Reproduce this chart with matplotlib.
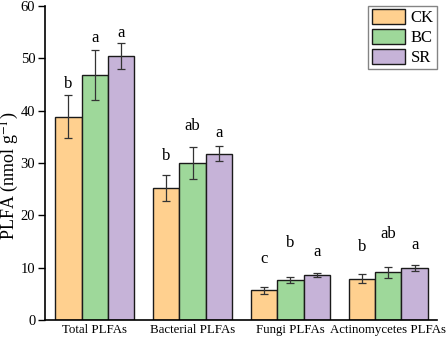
import matplotlib
matplotlib.use("Agg")
import matplotlib.pyplot as plt
import numpy as np

plt.rcParams['font.family'] = ['Liberation Serif', 'DejaVu Serif']
plt.rcParams['mathtext.fontset'] = 'stix'

categories = ["Total PLFAs", "Bacterial PLFAs", "Fungi PLFAs", "Actinomycetes PLFAs"]
treatments = ["CK", "BC", "SR"]
ck_vals = [38.8, 25.3, 5.7, 7.9]
bc_vals = [46.8, 30.0, 7.7, 9.1]
sr_vals = [50.5, 31.8, 8.6, 10.0]
ck_err = [4.1, 2.5, 0.7, 0.8]
bc_err = [4.7, 3.0, 0.6, 1.1]
sr_err = [2.5, 1.5, 0.3, 0.6]
ck_letters = ["b", "b", "c", "b"]
bc_letters = ["a", "ab", "b", "ab"]
sr_letters = ["a", "a", "a", "a"]
ck_letter_y = [45.1, 31.4, 11.7, 14.0]
bc_letter_y = [53.9, 37.1, 14.8, 16.4]
sr_letter_y = [54.9, 35.8, 13.0, 14.3]

colors = ["#FFD08F", "#9ED89A", "#C6B3D8"]

fig = plt.figure(figsize=(4.47, 3.42), dpi=100)
ax = fig.add_axes([0.1007, 0.0643, 0.8773, 0.9182])

x = np.arange(len(categories))
w = 0.27
series = [(ck_vals, ck_err, ck_letters, ck_letter_y),
          (bc_vals, bc_err, bc_letters, bc_letter_y),
          (sr_vals, sr_err, sr_letters, sr_letter_y)]
for i, (vals, errs, lets, ly) in enumerate(series):
    xs = x + (i - 1) * w
    ax.bar(xs, vals, width=w, color=colors[i], edgecolor="#1a1a1a", linewidth=1.0,
           label=treatments[i], zorder=2)
    ax.errorbar(xs, vals, yerr=errs, fmt="none", ecolor="#333333", elinewidth=0.9,
                capsize=3, capthick=0.9, zorder=3)
    for xx, l, yy in zip(xs, lets, ly):
        ax.text(xx, yy, l, ha="center", va="center", fontsize=12)

ax.set_xlim(-0.51, 3.5)
ax.set_ylim(0, 60)
ax.set_yticks([0, 10, 20, 30, 40, 50, 60])
ax.set_xticks(x)
ax.set_xticklabels(categories, fontsize=9.3)
ax.tick_params(axis="y", labelsize=10.5, direction="out", length=5, width=1, pad=2)
ax.tick_params(axis="x", length=0, pad=3)
ax.spines["top"].set_visible(False)
ax.spines["right"].set_visible(False)
ax.spines["left"].set_linewidth(1.2)
ax.spines["bottom"].set_linewidth(1.2)
ax.set_ylabel("PLFA (nmol g$^{-1}$)", fontsize=13)
ax.yaxis.set_label_coords(-0.06, 0.46)

leg = ax.legend(loc="upper right", bbox_to_anchor=(1.0, 1.0), fontsize=12,
                frameon=True, fancybox=False, edgecolor="#666666",
                handlelength=2.0, handleheight=1.0, handletextpad=0.35,
                labelspacing=0.15, borderpad=0.2, borderaxespad=0.0)
leg.get_frame().set_linewidth(1.0)

fig.savefig("out.png", dpi=100)
